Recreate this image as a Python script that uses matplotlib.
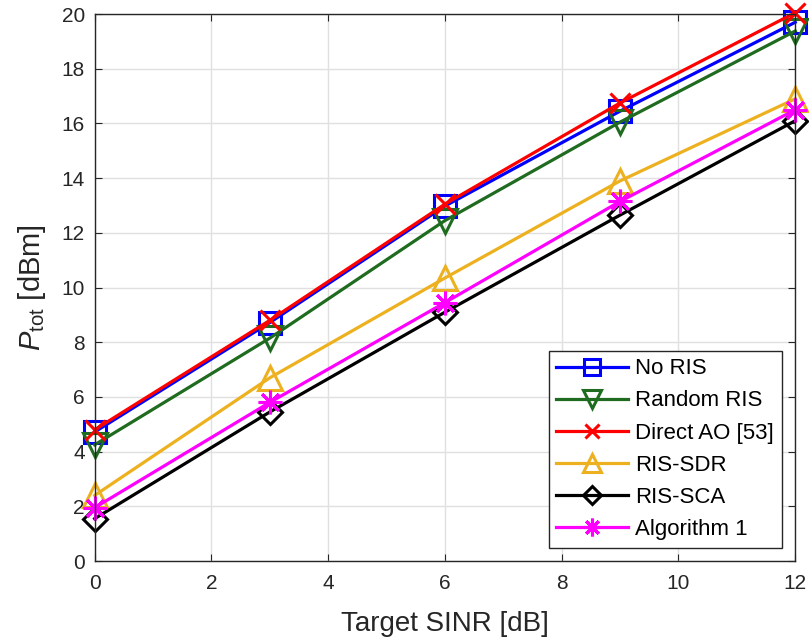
import matplotlib
matplotlib.use("Agg")
import matplotlib.pyplot as plt

plt.rcParams['font.family'] = ['Liberation Sans', 'DejaVu Sans']
plt.rcParams['mathtext.fontset'] = 'custom'
plt.rcParams['mathtext.rm'] = 'Liberation Sans'
plt.rcParams['mathtext.it'] = 'Liberation Sans:italic'

# data
sinr = [0, 3, 6, 9, 12]
no_ris = [4.72, 8.72, 12.98, 16.45, 19.7]
random_ris = [4.25, 8.15, 12.45, 16.05, 19.38]
direct_ao = [4.8, 8.8, 13.05, 16.75, 20.05]
ris_sdr = [2.4, 6.7, 10.35, 13.9, 16.9]
ris_sca = [1.55, 5.45, 9.1, 12.65, 16.1]
algorithm1 = [1.95, 5.8, 9.45, 13.15, 16.5]

series = [
    ("No RIS", no_ris, "#0000ff", "s"),
    ("Random RIS", random_ris, "#1f6b1f", "v"),
    ("Direct AO [53]", direct_ao, "#ff0000", "x"),
    ("RIS-SDR", ris_sdr, "#edb120", "^"),
    ("RIS-SCA", ris_sca, "#000000", "D"),
    ("Algorithm 1", algorithm1, "#ff00ff", (8, 2, 0)),
]

fig = plt.figure(figsize=(8.09, 6.39), dpi=100)
ax = fig.add_axes([0.117, 0.122, 0.866, 0.856])

for label, vals, color, marker in series:
    ms = 17
    if marker == "D":
        ms = 12
    elif marker == "x":
        ms = 14
    elif marker == "s":
        ms = 16
    ax.plot(sinr, vals, color=color, marker=marker, markersize=ms,
            markerfacecolor='none', markeredgewidth=2.2, linewidth=2.3,
            label=label, clip_on=False)

ax.set_xlim(0, 12)
ax.set_ylim(0, 20)
ax.set_xticks(range(0, 13, 2))
ax.set_yticks(range(0, 21, 2))
ax.grid(True, color='#e0e0e0', linewidth=1)
ax.set_axisbelow(True)
ax.tick_params(axis='both', direction='in', labelsize=15, colors='#262626',
               length=5, top=True, right=True)
ax.tick_params(axis='x', pad=9)
ax.tick_params(axis='y', pad=7)
for sp in ax.spines.values():
    sp.set_color('#262626')
    sp.set_linewidth(1)

ax.set_xlabel("Target SINR [dB]", fontsize=20, color='#262626', labelpad=13)
ax.set_ylabel(r"$P_{\mathrm{tot}}$ [dBm]", fontsize=21, color='#262626',
              labelpad=10)

leg = ax.legend(loc='lower right', fontsize=16, handlelength=3.2,
                fancybox=False, edgecolor='#262626', framealpha=1,
                borderaxespad=0.6, labelspacing=0.5, borderpad=0.35,
                handletextpad=0.35, markerscale=0.75)
leg.get_frame().set_linewidth(1)

fig.savefig("out.png", dpi=100)
